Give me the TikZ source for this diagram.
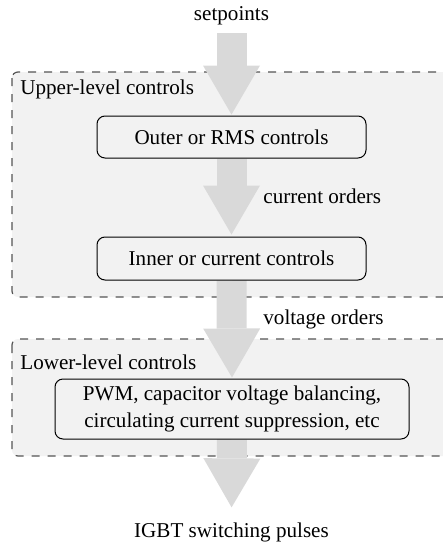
\documentclass[tikz,border=0pt]{standalone}
\usepackage{fontspec}
\setmainfont{Liberation Serif}
\usetikzlibrary{arrows.meta,backgrounds}
\definecolor{arrowgray}{HTML}{D9D9D9}
\definecolor{panelfill}{HTML}{F2F2F2}
\definecolor{panelline}{HTML}{555555}
\begin{document}
\begin{tikzpicture}[x=0.5pt,y=-0.5pt,
  every node/.style={font=\fontsize{10.55}{13.3}\selectfont},
  ctrlbox/.style={draw=black, line width=0.5pt, rounded corners=4pt, inner sep=0pt, align=center},
  panel/.style={draw=panelline, fill=panelfill, line width=0.6pt, dash pattern=on 4pt off 4pt, rounded corners=3pt},
  flowarrow/.style={draw=arrowgray, line width=15pt, -{Triangle[width=28.5pt,length=24.5pt,line width=0pt,fill=arrowgray]}},
  plainlabel/.style={inner sep=0pt}]
\useasboundingbox (0,0) rectangle (443,542);
\clip (0,0) rectangle (443,542);
% nodes
\node[plainlabel, anchor=base] (sp) at (231.5,20) {setpoints};
\node[ctrlbox, minimum width=134.5pt, minimum height=21pt] (outer) at (231.5,137) {Outer or RMS controls};
\node[ctrlbox, minimum width=134.5pt, minimum height=21.5pt] (inner) at (231.5,258.5) {Inner or current controls};
\node[ctrlbox, minimum width=177pt, minimum height=30pt] (pwm) at (232,409) {PWM, capacitor voltage balancing,\\circulating current suppression, etc};
\node[plainlabel, anchor=base] (igbt) at (231.5,537) {IGBT switching pulses};
\node[plainlabel, anchor=base west] (upl) at (20,94) {Upper-level controls};
\node[plainlabel, anchor=base west] (lowl) at (20,369) {Lower-level controls};
\node[plainlabel, anchor=base west] (cur) at (263,203) {current orders};
\node[plainlabel, anchor=base west] (volt) at (263,324) {voltage orders};
% panels and arrows behind
\begin{scope}[on background layer]
  \draw[panel] (12,72) rectangle (470,297);
  \draw[panel] (12,339) rectangle (470,456);
  \draw[flowarrow, shorten <=4.25pt, shorten >=0.5pt] (sp.south) -- (outer.north);
  \draw[flowarrow, shorten >=1pt] (outer.south) -- (inner.north);
  \draw[flowarrow, shorten >=0.5pt] (inner.south) -- (pwm.north);
  \draw[flowarrow, shorten >=7.3pt] (pwm.south) -- (igbt.north);
\end{scope}
\end{tikzpicture}
\end{document}
